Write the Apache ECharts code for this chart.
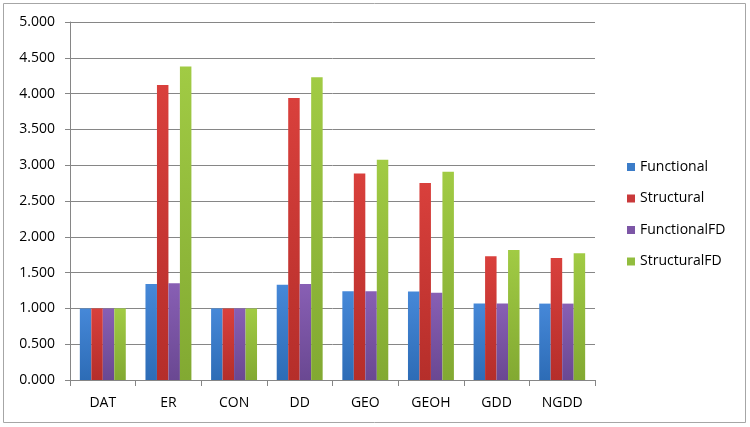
<!DOCTYPE html>
<html>
<head>
<meta charset="utf-8">
<script src="https://cdn.jsdelivr.net/npm/echarts@6/dist/echarts.min.js"></script>
<style>
  html, body { margin: 0; padding: 0; background: #fff; }
  #chart { width: 750px; height: 427px; }
</style>
</head>
<body>
<div id="chart"></div>
<script>
// Values
const categories = ["DAT", "ER", "CON", "DD", "GEO", "GEOH", "GDD", "NGDD"];
const functional = [1.0, 1.34, 1.0, 1.33, 1.24, 1.235, 1.067, 1.067];
const structural = [1.0, 4.12, 1.0, 3.94, 2.885, 2.75, 1.73, 1.705];
const functionalFD = [1.0, 1.35, 1.0, 1.34, 1.24, 1.22, 1.067, 1.067];
const structuralFD = [1.0, 4.38, 1.0, 4.23, 3.075, 2.91, 1.815, 1.77];

const seriesNames = ["Functional", "Structural", "FunctionalFD", "StructuralFD"];
const seriesData = [functional, structural, functionalFD, structuralFD];
// [top, bottom] of each bar's shading
const shades = [
  ["#4688d8", "#2d6cb6"],
  ["#d9403c", "#b52e2a"],
  ["#885fb4", "#6a4892"],
  ["#a1cb44", "#82a932"]
];
const legendColors = ["#3b7cc8", "#c9393a", "#7c56a6", "#92bd3e"];

const chart = echarts.init(document.getElementById("chart"));
const font = "'Open Sans', 'Liberation Sans', sans-serif";

chart.setOption({
  animation: false,
  textStyle: { fontFamily: font },
  graphic: [{
    type: "rect",
    shape: { x: 3.5, y: 3.5, width: 742, height: 419 },
    style: { fill: "none", stroke: "#a6a6a6", lineWidth: 1 },
    silent: true
  }],
  grid: { left: 70, right: 155, top: 22, bottom: 47 },
  legend: {
    orient: "vertical",
    left: 622,
    top: 155,
    itemWidth: 8,
    itemHeight: 8,
    itemGap: 17.5,
    icon: "rect",
    textStyle: { fontSize: 14, color: "#000", fontFamily: font },
    data: seriesNames.map((n, i) => ({ name: n, itemStyle: { color: legendColors[i] } }))
  },
  xAxis: {
    type: "category",
    data: categories,
    axisLine: { lineStyle: { color: "#868686" } },
    axisTick: { show: true, length: 6, lineStyle: { color: "#868686" } },
    axisLabel: { fontSize: 14, color: "#000", margin: 16 }
  },
  yAxis: {
    type: "value",
    min: 0,
    max: 5,
    interval: 0.5,
    axisLine: { show: true, lineStyle: { color: "#868686" } },
    axisTick: { show: true, length: 5, lineStyle: { color: "#868686" } },
    splitLine: { lineStyle: { color: "#868686" } },
    axisLabel: {
      fontSize: 14, color: "#000", margin: 15,
      formatter: (v) => v.toFixed(3)
    }
  },
  series: seriesNames.map((name, i) => ({
    name,
    type: "bar",
    data: seriesData[i],
    barGap: "0%",
    barCategoryGap: "30%",
    itemStyle: {
      color: new echarts.graphic.LinearGradient(0, 0, 0, 1, [
        { offset: 0, color: shades[i][0] },
        { offset: 1, color: shades[i][1] }
      ])
    }
  }))
});
</script>
</body>
</html>
